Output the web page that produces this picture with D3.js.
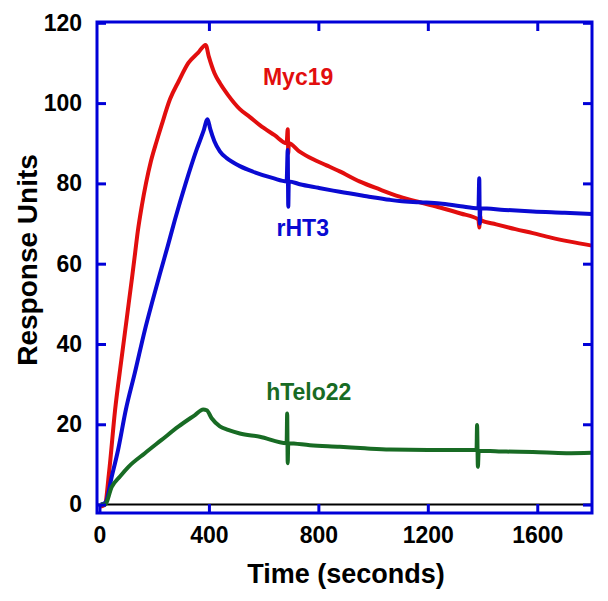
<!DOCTYPE html>
<html>
<head>
<meta charset="utf-8">
<script src="https://cdn.jsdelivr.net/npm/d3@7"></script>
<style>
  body { margin: 0; background: #fff; }
  svg { display: block; font-family: "Liberation Sans", Arial, sans-serif; }
</style>
</head>
<body>
<svg id="chart" width="608" height="601"></svg>
<script>
// values: [time (s), response units]
const myc19 = [
  [5, -0.5], [20, 0], [35, 8], [57, 23.5], [80, 36], [100, 46.5], [119, 56.5], [130, 62.5],
  [140, 68], [155, 74.5], [170, 80], [188, 85.5], [209, 90.5], [227, 94.5], [258, 101],
  [290, 105.5], [325, 110], [360, 112.5], [388, 114.5], [400, 111.5], [420, 107.5],
  [440, 105], [470, 102], [513, 98.5], [550, 96.5], [586, 94.5], [640, 92], [684, 90],
  [688, 93.5], [690, 87.5], [692, 90], [730, 88], [781, 86], [830, 84.5], [878, 83],
  [950, 80.5], [1024, 78.5], [1097, 76.7], [1170, 75.3], [1244, 74], [1320, 72.5],
  [1385, 71], [1388, 69], [1391, 72], [1394, 70.8], [1450, 69.8], [1520, 68.6],
  [1584, 67.6], [1650, 66.5], [1720, 65.5], [1800, 64.5]
]

const rHT3 = [
  [5, 0], [22, 0.5], [45, 7], [68, 13.6], [96, 23.5], [130, 33], [166, 43.5], [195, 51],
  [221, 57.5], [250, 64.5], [276, 71], [315, 80], [355, 88.4], [380, 93], [395, 96],
  [405, 93.5], [420, 90.5], [440, 88], [465, 86.3], [489, 85.2], [513, 84.3], [562, 82.9],
  [635, 81.3], [684, 80.5], [688, 88.3], [690, 74.2], [692, 80.5], [732, 79.8], [800, 78.9],
  [854, 78.2], [878, 77.9], [976, 76.8], [1061, 75.9], [1097, 75.6], [1170, 75.3],
  [1244, 75], [1320, 74.3], [1385, 73.8], [1388, 81.3], [1390, 70], [1392, 73.8],
  [1480, 73.4], [1584, 73], [1700, 72.7], [1800, 72.4]
]

const hTelo22 = [
  [5, 0], [20, 0], [45, 4.4], [75, 7], [106, 9.4], [166, 12.8], [227, 16.1], [288, 19.4],
  [349, 22.3], [379, 23.7], [392, 23.5], [410, 21.5], [440, 19.5], [470, 18.6], [513, 17.7],
  [586, 16.9], [684, 15.3], [686, 22.7], [688, 10.3], [690, 15.3], [769, 14.8],
  [878, 14.4], [970, 14], [1061, 13.7], [1244, 13.6], [1378, 13.6], [1380, 19.8],
  [1383, 9.4], [1386, 13.4], [1487, 13.2], [1584, 13.1], [1706, 12.8], [1800, 12.9]
]

const seriesNames = ['Myc19', 'rHT3', 'hTelo22']
const seriesColors = ['#e20e0e', '#0a0ad2', '#186b24']
const xTicks = [0, 400, 800, 1200, 1600]
const yTicks = [0, 20, 40, 60, 80, 100, 120]
// label anchor points in data units [time, response]
const labelPos = [[726, 104.5], [743, 67], [765, 26]]

const svg = d3.select('#chart')
const frameBlue = '#0000d8'

const x = d3.scaleLinear().domain([-9, 1800]).range([97, 592])
const y = d3.scaleLinear().domain([-2.1, 120.2]).range([513, 22])

// zero baseline
svg.append('line')
  .attr('x1', x.range()[0]).attr('x2', x.range()[1])
  .attr('y1', y(0)).attr('y2', y(0))
  .attr('stroke', '#000').attr('stroke-width', 2)

const line = d3.line()
  .curve(d3.curveMonotoneX)
  .x(d => x(d[0]))
  .y(d => y(d[1]))

const allSeries = [myc19, rHT3, hTelo22]
svg.append('g')
  .selectAll('path')
  .data(allSeries)
  .enter().append('path')
  .attr('d', line)
  .attr('fill', 'none')
  .attr('stroke', (d, i) => seriesColors[i])
  .attr('stroke-width', 4)
  .attr('stroke-linejoin', 'round')

// axes with inward ticks
function styleAxis(g) {
  g.select('.domain').remove()
  g.selectAll('.tick line').attr('stroke', frameBlue).attr('stroke-width', 3)
  g.selectAll('.tick text')
    .attr('fill', '#000')
    .style('font-size', '23px')
    .style('font-weight', 'bold')
    .style('font-family', '"Liberation Sans", Arial, sans-serif')
}

svg.append('g')
  .attr('transform', `translate(0,${y.range()[0]})`)
  .call(d3.axisBottom(x).tickValues(xTicks).tickSize(-9).tickPadding(14).tickFormat(d3.format('d')))
  .call(styleAxis)

svg.append('g')
  .attr('transform', `translate(0,${y.range()[1]})`)
  .call(d3.axisTop(x).tickValues(xTicks.slice(1)).tickSize(-9).tickFormat(''))
  .call(styleAxis)

svg.append('g')
  .attr('transform', `translate(${x.range()[0]},0)`)
  .call(d3.axisLeft(y).tickValues(yTicks).tickSize(-9).tickPadding(15).tickFormat(d3.format('d')))
  .call(styleAxis)

svg.append('g')
  .attr('transform', `translate(${x.range()[1]},0)`)
  .call(d3.axisRight(y).tickValues(yTicks).tickSize(-9).tickFormat(''))
  .call(styleAxis)

// frame
svg.append('rect')
  .attr('x', x.range()[0]).attr('y', y.range()[1])
  .attr('width', x.range()[1] - x.range()[0])
  .attr('height', y.range()[0] - y.range()[1])
  .attr('fill', 'none')
  .attr('stroke', frameBlue)
  .attr('stroke-width', 3)

// axis titles
svg.append('text')
  .attr('x', 346).attr('y', 583)
  .attr('text-anchor', 'middle')
  .style('font-size', '27px').style('font-weight', 'bold')
  .text('Time (seconds)')

svg.append('text')
  .attr('transform', 'translate(37,260) rotate(-90)')
  .attr('text-anchor', 'middle')
  .style('font-size', '28px').style('font-weight', 'bold')
  .text('Response Units')

// series labels
svg.append('g')
  .selectAll('text')
  .data(seriesNames)
  .enter().append('text')
  .attr('x', (d, i) => x(labelPos[i][0]))
  .attr('y', (d, i) => y(labelPos[i][1]))
  .attr('text-anchor', 'middle')
  .attr('fill', (d, i) => seriesColors[i])
  .style('font-size', '23px').style('font-weight', 'bold')
  .text(d => d)
</script>
</body>
</html>
